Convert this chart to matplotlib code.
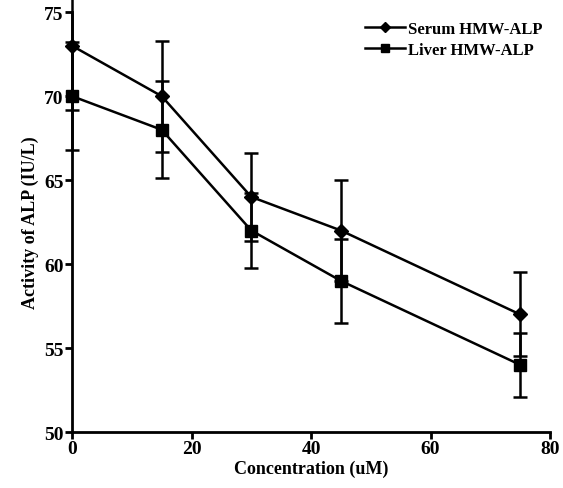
import matplotlib
matplotlib.use("Agg")
import matplotlib.pyplot as plt

# data
conc = [0, 15, 30, 45, 75]
serum = [73, 70, 64, 62, 57]
serum_err = [3.8, 3.3, 2.6, 3.0, 2.5]
liver = [70, 68, 62, 59, 54]
liver_err = [3.2, 2.9, 2.25, 2.5, 1.9]

plt.rcParams['font.family'] = ['Liberation Serif', 'DejaVu Serif']
plt.rcParams['font.weight'] = 'bold'

fig = plt.figure(figsize=(5.63, 4.89), dpi=100)
ax = fig.add_axes([0.128, 0.1145, 0.849, 0.8585])

s = ax.errorbar(conc, serum, yerr=serum_err, color='black', marker='D', markersize=7,
                linewidth=1.8, elinewidth=1.8, capsize=5, capthick=1.8,
                label='Serum HMW-ALP', clip_on=False, zorder=3)
l = ax.errorbar(conc, liver, yerr=liver_err, color='black', marker='s', markersize=8,
                linewidth=1.8, elinewidth=1.8, capsize=5, capthick=1.8,
                label='Liver HMW-ALP', clip_on=False, zorder=3)

ax.set_xlim(0, 80)
ax.set_ylim(50, 75)
ax.set_xticks([0, 20, 40, 60, 80])
ax.set_yticks([50, 55, 60, 65, 70, 75])

ax.spines['top'].set_visible(False)
ax.spines['right'].set_visible(False)
ax.spines['left'].set_linewidth(2)
ax.spines['bottom'].set_linewidth(2)
ax.tick_params(direction='out', width=2, length=5, labelsize=14, pad=1)

ax.set_xlabel('Concentration (uM)', fontsize=13, fontweight='bold', labelpad=2)
ax.set_ylabel('Activity of ALP (IU/L)', fontsize=13, fontweight='bold', labelpad=4)

# legend shows only line + marker, no error bars
ax.legend(handles=[s[0], l[0]], labels=['Serum HMW-ALP', 'Liver HMW-ALP'],
          loc='upper right', frameon=False, fontsize=12, handlelength=2.4,
          handletextpad=0.2, labelspacing=0.3, borderaxespad=0.0,
          markerscale=0.8, borderpad=0.0, bbox_to_anchor=(0.985, 0.98))

fig.savefig('out.png', dpi=100)
